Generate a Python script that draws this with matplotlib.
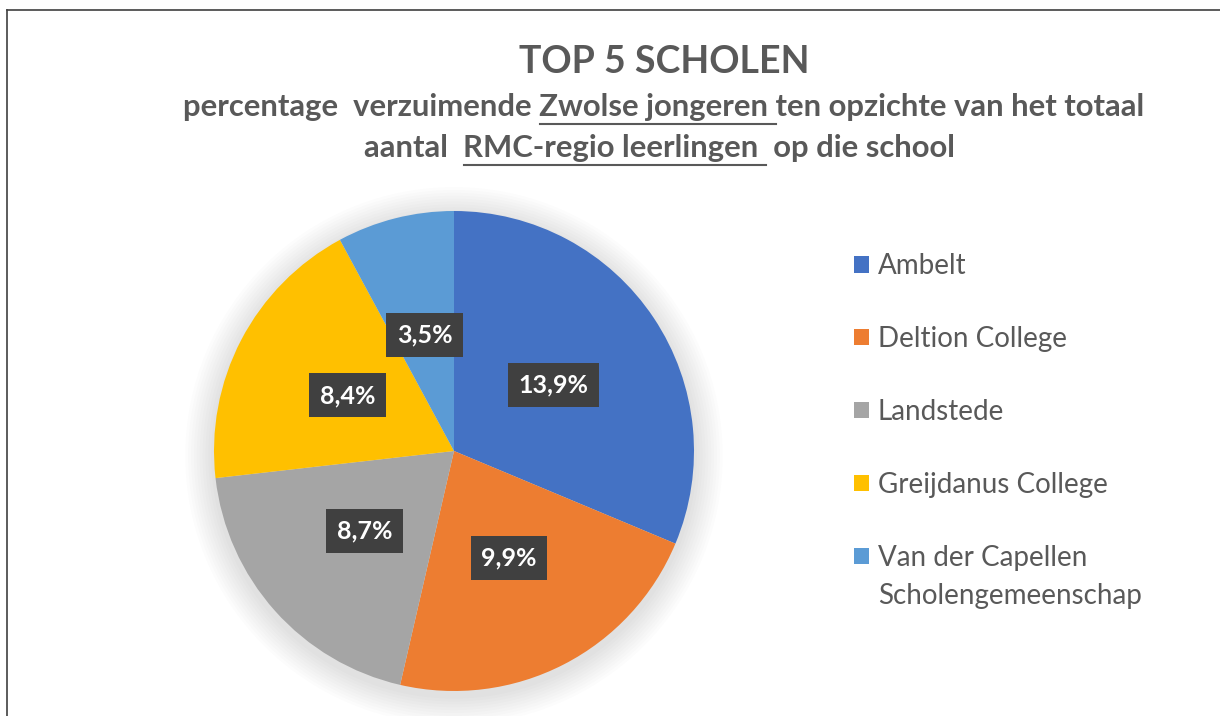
import matplotlib
matplotlib.use("Agg")
import matplotlib.pyplot as plt
from matplotlib.lines import Line2D
from matplotlib.patches import Circle

# === Data ===
schools = ["Ambelt", "Deltion College", "Landstede", "Greijdanus College",
           "Van der Capellen\nScholengemeenschap"]
values = [13.9, 9.9, 8.7, 8.4, 3.5]
colors = ["#4472C4", "#ED7D31", "#A5A5A5", "#FFC000", "#5B9BD5"]

title = "TOP 5 SCHOLEN"
sub1_parts = ["percentage  verzuimende ", "Zwolse jongeren ", "ten opzichte van het totaal"]
sub2_parts = ["aantal  ", "RMC-regio leerlingen ", " op die school"]

W, H = 1220, 716
txt_color = "#595959"
head_font = ["Lato", "DejaVu Sans"]
body_font = ["Lato", "DejaVu Sans"]

fig = plt.figure(figsize=(W / 100, H / 100), dpi=100)
fig.patch.set_facecolor("white")

# frame (only top and left visible in the crop)
fig.add_artist(Line2D([7 / W, 7 / W], [0, 1 - 10 / H], color="#404040", lw=1.2))
fig.add_artist(Line2D([7 / W, 1], [1 - 10 / H, 1 - 10 / H], color="#404040", lw=1.2))

# === Pie ===
cx, cy, r = 454, 451, 240
ax = fig.add_axes([(cx - r) / W, (H - cy - r) / H, 2 * r / W, 2 * r / H])
# soft shadow behind the pie
for i in range(10):
    ax.add_patch(Circle((0.0, -0.02), 1.0 + 0.012 * (10 - i), color="black",
                        alpha=0.012, lw=0, clip_on=False, zorder=0))
total = sum(values)
wedges, texts, autotexts = ax.pie(
    values, colors=colors, startangle=90, counterclock=False,
    autopct=lambda p: f"{p * total / 100:.1f}%".replace(".", ","),
    pctdistance=0.5, wedgeprops=dict(linewidth=0, zorder=2))
ax.set_xlim(-1, 1)
ax.set_ylim(-1, 1)
for t in autotexts:
    t.set_color("white")
    t.set_fontsize(18)
    t.set_fontweight("bold")
    t.set_family(body_font)
    t.set_zorder(5)
    t.set_bbox(dict(boxstyle="square,pad=0.42", fc="#404040", ec="none"))

# === Legend ===
# the square sits next to the first line of a wrapped name, so the
# second line is written on its own below the legend entry
first_lines = [s.split("\n")[0] for s in schools]
leg = fig.legend(wedges, first_lines, loc="upper left", bbox_to_anchor=(829 / W, 1 - 228 / H),
                 frameon=False, handlelength=0.55, handleheight=0.55, handletextpad=0.3,
                 labelspacing=1.69, prop=dict(family=body_font, size=20), labelcolor=txt_color)

renderer = fig.canvas.get_renderer()
fig.draw(renderer)
last_bb = leg.get_texts()[-1].get_window_extent(renderer)
for k, extra in enumerate(schools[-1].split("\n")[1:]):
    fig.text(last_bb.x0 / W, (last_bb.y0 - 38 * (k + 1)) / H, extra, ha="left", va="bottom",
             fontsize=20, color=txt_color, family=body_font)

# === Titles ===
fig.text(664 / W, 1 - 62 / H, title, ha="center", va="center", fontsize=27,
         fontweight="bold", color=txt_color, family=head_font)

sub_size = 22.3


def line_with_underline(parts, xc, yc, under_y):
    full = "".join(parts)
    t = fig.text(xc / W, 1 - yc / H, full, ha="center", va="center", fontsize=sub_size,
                 fontweight="bold", color=txt_color, family=head_font)
    bb = t.get_window_extent(renderer)
    tmp = fig.text(0, 0, parts[0], fontsize=sub_size, fontweight="bold", family=head_font)
    x0 = bb.x0 + tmp.get_window_extent(renderer).width
    tmp.set_text(parts[0] + parts[1])
    x1 = bb.x0 + tmp.get_window_extent(renderer).width
    tmp.remove()
    fig.add_artist(Line2D([x0 / W, x1 / W], [1 - under_y / H] * 2, color=txt_color, lw=1.5))


line_with_underline(sub1_parts, 664, 107, 124)
line_with_underline(sub2_parts, 660, 148, 165)

fig.savefig("out.png", dpi=100, facecolor="white")
